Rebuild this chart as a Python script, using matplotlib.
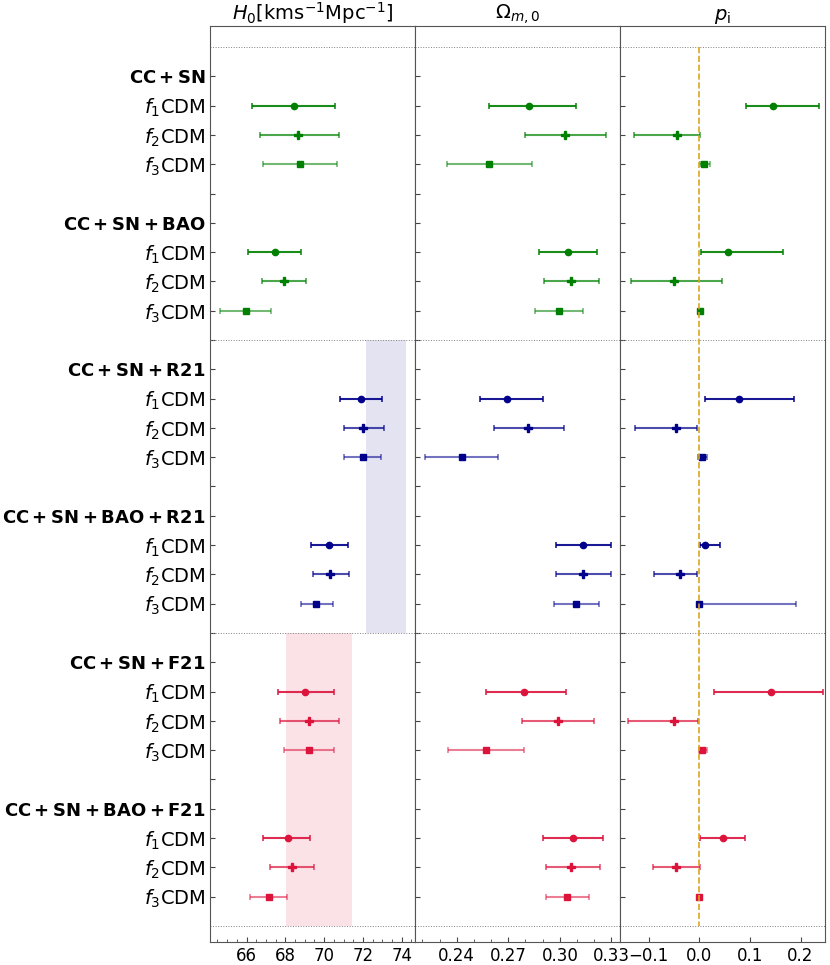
import matplotlib
matplotlib.use("Agg")
import matplotlib.pyplot as plt
import numpy as np

# rows: (f1, f2, f3) for each dataset combination
datasets = [r"$\mathbf{CC + SN}$", r"$\mathbf{CC + SN + BAO}$",
            r"$\mathbf{CC + SN + R21}$", r"$\mathbf{CC + SN + BAO + R21}$",
            r"$\mathbf{CC + SN + F21}$", r"$\mathbf{CC + SN + BAO + F21}$"]
models = [r"$f_1$CDM", r"$f_2$CDM", r"$f_3$CDM"]
colors = ["green", "green", "darkblue", "darkblue", "crimson", "crimson"]

# H0 [center, low, high]
h0 = [
    [[68.45, 66.30, 70.54], [68.66, 66.68, 70.78], [68.78, 66.87, 70.68]],
    [[67.47, 66.08, 68.81], [67.93, 66.80, 69.07], [65.97, 64.63, 67.26]],
    [[71.88, 70.80, 73.00], [71.99, 71.01, 73.10], [71.99, 71.02, 72.93]],
    [[70.25, 69.32, 71.21], [70.32, 69.44, 71.26], [69.58, 68.82, 70.44]],
    [[69.01, 67.62, 70.51], [69.22, 67.72, 70.76], [69.22, 67.93, 70.51]],
    [[68.14, 66.85, 69.27], [68.35, 67.21, 69.48], [67.16, 66.20, 68.09]],
]
# Omega_m0 [center, low, high]
om = [
    [[0.2820, 0.2587, 0.3092], [0.3029, 0.2798, 0.3271], [0.2589, 0.2345, 0.2838]],
    [[0.3048, 0.2879, 0.3217], [0.3066, 0.2908, 0.3229], [0.2996, 0.2856, 0.3136]],
    [[0.2693, 0.2536, 0.2903], [0.2815, 0.2617, 0.3024], [0.2431, 0.2216, 0.2641]],
    [[0.3136, 0.2978, 0.3299], [0.3136, 0.2978, 0.3299], [0.3095, 0.2966, 0.3229]],
    [[0.2790, 0.2572, 0.3038], [0.2988, 0.2778, 0.3197], [0.2571, 0.2351, 0.2790]],
    [[0.3078, 0.2903, 0.3252], [0.3066, 0.2920, 0.3234], [0.3040, 0.2918, 0.3172]],
]
# p_i [center, low, high]
pi = [
    [[0.145, 0.093, 0.236], [-0.045, -0.129, 0.001], [0.010, 0.001, 0.021]],
    [[0.057, 0.003, 0.166], [-0.050, -0.135, 0.045], [0.001, -0.002, 0.004]],
    [[0.079, 0.011, 0.188], [-0.046, -0.128, -0.005], [0.005, -0.003, 0.015]],
    [[0.012, 0.001, 0.040], [-0.038, -0.089, -0.004], [0.000, 0.000, 0.191]],
    [[0.142, 0.029, 0.244], [-0.050, -0.141, -0.003], [0.005, 0.000, 0.015]],
    [[0.047, 0.001, 0.091], [-0.046, -0.092, 0.001], [0.000, -0.002, 0.002]],
]

r21_band = [72.17, 74.23]
f21_band = [68.05, 71.42]

markers = ["o", "P", "s"]
marker_size = [4.5, 6, 4.5]
bar_alpha = [0.9, 0.7, 0.55]

fig = plt.figure(figsize=(8.3, 9.65), dpi=100)
left, bottom, width, height = 210.3 / 830, 23 / 965, 205 / 830, 916 / 965
axes = [fig.add_axes([left + i * width, bottom, width, height]) for i in range(3)]

# y positions: header at 1, models at 2,3,4 ; next block shifted by 5
ticks, labels = [], []
for k, name in enumerate(datasets):
    base = 1 + 5 * k
    ticks += [base, base + 1, base + 2, base + 3]
    labels += [name] + models
    if k < len(datasets) - 1:
        ticks.append(base + 4)
        labels.append("")

for ax, vals in zip(axes, [h0, om, pi]):
    for k in range(len(datasets)):
        for j in range(3):
            c, lo, hi = vals[k][j]
            y = 2 + 5 * k + j
            ax.errorbar(c, y, xerr=[[c - lo], [hi - c]], fmt="none",
                        ecolor=colors[k], alpha=bar_alpha[j], elinewidth=1.5,
                        capsize=2, capthick=1.2)
            ax.plot(c, y, marker=markers[j], color=colors[k],
                    ms=marker_size[j], ls="none")
    for yl in [0, 10, 20, 30]:
        ax.axhline(yl, color="gray", ls=":", lw=0.7)
    ax.set_ylim(30.55, -0.72)
    ax.set_yticks(ticks)
    ax.tick_params(axis="both", direction="in", labelsize=12, color="#444444")
    ax.tick_params(axis="y", labelsize=14)
    ax.tick_params(which="minor", direction="in", length=2, color="#444444")
    for s in ax.spines.values():
        s.set_color("#555555")

axes[0].set_yticklabels(labels)
for lab in axes[0].get_yticklabels():
    if "mathbf" in lab.get_text():
        lab.set_fontsize(13)
axes[1].set_yticklabels([])
axes[2].set_yticklabels([])

# reference bands for H0
axes[0].fill_betweenx([10, 20], r21_band[0], r21_band[1], color="darkblue", alpha=0.11, lw=0)
axes[0].fill_betweenx([20, 30], f21_band[0], f21_band[1], color="crimson", alpha=0.12, lw=0)
axes[2].vlines(0, 0, 30, colors="goldenrod", linestyles="--", lw=1.2)

axes[0].set_xlim(64.13, 74.70)
axes[0].set_xticks([66, 68, 70, 72, 74])
axes[0].set_xticks(np.arange(64.5, 74.6, 0.5), minor=True)
axes[1].set_xlim(0.2159, 0.3352)
axes[1].set_xticks([0.24, 0.27, 0.30, 0.33])
axes[1].set_xticks(np.arange(0.22, 0.335, 0.01), minor=True)
axes[2].set_xlim(-0.1564, 0.249)
axes[2].set_xticks([-0.1, 0.0, 0.1, 0.2])

axes[0].set_title(r"$H_0[\mathrm{kms}^{-1}\mathrm{Mpc}^{-1}]$", fontsize=14, pad=3)
axes[1].set_title(r"$\Omega_{m,0}$", fontsize=14, pad=3)
axes[2].set_title(r"$p_{\mathrm{i}}$", fontsize=14, pad=3)

fig.savefig("out.png", dpi=100)
